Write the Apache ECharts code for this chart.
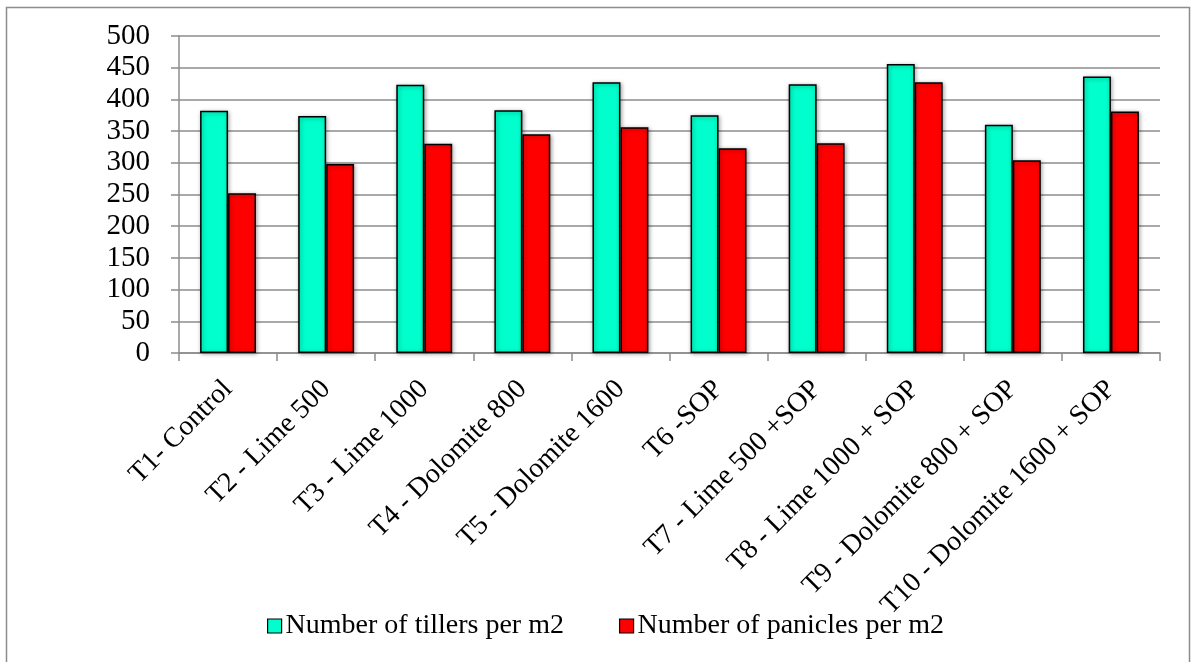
<!DOCTYPE html>
<html>
<head>
<meta charset="utf-8">
<style>
  html, body { margin: 0; padding: 0; background: #fff; }
  #chart { width: 1191px; height: 662px; }
</style>
<script src="https://cdn.jsdelivr.net/npm/echarts@6/dist/echarts.min.js"></script>
</head>
<body>
<div id="chart"></div>
<script>
// Treatments and measured counts per m2
const categories = [
  'T1- Control', 'T2 - Lime 500', 'T3 - Lime 1000', 'T4 - Dolomite 800',
  'T5 - Dolomite 1600', 'T6 -SOP', 'T7 - Lime 500 +SOP', 'T8 - Lime 1000 + SOP',
  'T9 - Dolomite 800 + SOP', 'T10 - Dolomite 1600 + SOP'
];
const tillers = [382, 374, 423, 383, 427, 375, 424, 456, 360, 436];
const panicles = [252, 298, 330, 345, 356, 323, 331, 427, 304, 381];
const seriesNames = ['Number of tillers per m2', 'Number of panicles per m2'];
const yTicks = { min: 0, max: 500, interval: 50 };

const serif = '"Liberation Serif", "DejaVu Serif", serif';
const barStyle = (color) => ({
  color: color,
  borderColor: '#000',
  borderWidth: 1.5,
  shadowColor: 'rgba(0,0,0,0.35)',
  shadowBlur: 4,
  shadowOffsetX: 1,
  shadowOffsetY: 1
});

const chart = echarts.init(document.getElementById('chart'), null, { renderer: 'canvas' });
chart.setOption({
  animation: false,
  backgroundColor: '#fff',
  graphic: [{
    type: 'rect',
    shape: { x: 6.5, y: 7.5, width: 1183, height: 680 },
    style: { fill: 'none', stroke: '#8c8c8c', lineWidth: 1.5 },
    silent: true
  }],
  legend: {
    top: 607,
    left: 262,
    itemWidth: 14,
    itemHeight: 14,
    itemGap: 55,
    icon: 'rect',
    textStyle: { fontFamily: serif, fontSize: 28, color: '#000', padding: [0, 0, 0, -1] },
    data: seriesNames.map((n, i) => ({
      name: n,
      itemStyle: { borderColor: '#000', borderWidth: 1.2, color: i === 0 ? '#00ffcc' : '#ff0000' }
    }))
  },
  grid: { left: 179, right: 31, top: 36, bottom: 309, containLabel: false },
  xAxis: {
    type: 'category',
    data: categories,
    boundaryGap: true,
    axisLine: { lineStyle: { color: '#8c8c8c', width: 1.5 } },
    axisTick: { show: true, length: 8, lineStyle: { color: '#8c8c8c', width: 1.5 } },
    axisLabel: {
      rotate: 45,
      interval: 0,
      margin: 32,
      fontFamily: serif,
      fontSize: 28,
      color: '#000'
    }
  },
  yAxis: {
    type: 'value',
    min: yTicks.min,
    max: yTicks.max,
    interval: yTicks.interval,
    axisLine: { show: true, lineStyle: { color: '#8c8c8c', width: 1.5 } },
    axisTick: { show: true, length: 8, lineStyle: { color: '#8c8c8c', width: 1.5 } },
    splitLine: { lineStyle: { color: '#8c8c8c', width: 1.5 } },
    axisLabel: { margin: 29, fontFamily: serif, fontSize: 29, color: '#000' }
  },
  series: [
    {
      name: seriesNames[0],
      type: 'bar',
      data: tillers,
      barGap: '0%',
      barCategoryGap: '43%',
      itemStyle: barStyle('#00ffcc')
    },
    {
      name: seriesNames[1],
      type: 'bar',
      data: panicles,
      barGap: '0%',
      barCategoryGap: '43%',
      itemStyle: barStyle('#ff0000')
    }
  ]
});
</script>
</body>
</html>
